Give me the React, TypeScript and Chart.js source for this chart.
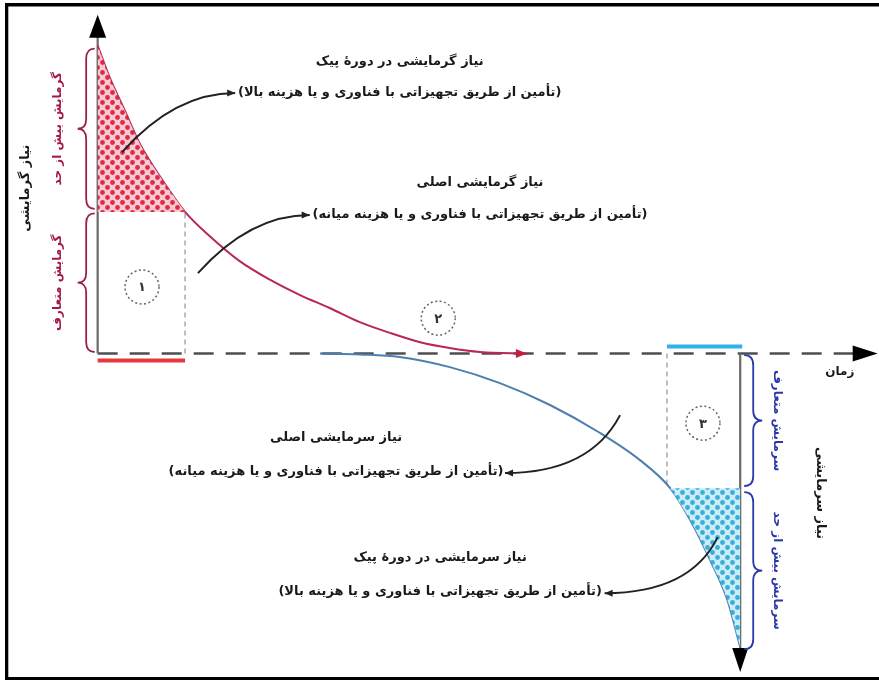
import React, { useEffect, useRef } from "react";
import { Chart, registerables } from "chart.js";

Chart.register(...registerables);

// time (0 = start of heating season, 100 = peak cooling) ; demand (+ heating, − cooling)
const heatTime = [0, 1.9, 4.2, 6.6, 9.7, 13.6, 17.5, 22.1, 26.8, 31.5, 36.1, 40.8, 45.5, 50.2, 54.8, 59.5, 66.8];
const heatDemand = [100, 89.5, 79, 68, 57.5, 46, 38, 30, 24, 19, 14.8, 10.2, 6.7, 3.7, 1.8, 0.5, 0];
const coolTime = [34.6, 40.8, 47, 54.8, 62.6, 70.4, 78.2, 84.4, 89.1, 92.2, 95.3, 98, 100];
const coolDemand = [0, -0.3, -1.1, -4.4, -9.6, -16.7, -25.8, -34.6, -43.7, -54, -67, -80, -95.3];

const heatThreshold = 46;
const heatPeakEnd = 13.6;
const coolThreshold = -43.7;
const coolPeakStart = 88.6;
const coolAxisTime = 100;
const heatAxisTop = 110;
const timeAxisEnd = 121.4;
const coolAxisBottom = -103.4;

const noteTitles = [
  "نیاز گرمایشی در دورهٔ پیک",
  "نیاز گرمایشی اصلی",
  "نیاز سرمایشی اصلی",
  "نیاز سرمایشی در دورهٔ پیک",
];
const noteDetails = [
  "(تأمین از طریق تجهیزاتی با فناوری و یا هزینه بالا)",
  "(تأمین از طریق تجهیزاتی با فناوری و یا هزینه میانه)",
  "(تأمین از طریق تجهیزاتی با فناوری و یا هزینه میانه)",
  "(تأمین از طریق تجهیزاتی با فناوری و یا هزینه بالا)",
];
const noteTime = [47.0, 59.5, 37.1, 53.3];
const noteTitleDemand = [94.7, 55.4, -27.4, -66.4];
const noteDetailDemand = [84.6, 45.0, -38.2, -77.4];

const arrowFrom = [[3.8, 65.4], [15.6, 26.1], [81.3, -20.0], [96.5, -59.6]];
const arrowVia = [[12.0, 84.6], [23.7, 45.0], [76.6, -38.8], [92.2, -77.8]];
const arrowTo = [[21.4, 84.6], [33.0, 45.0], [63.4, -38.8], [78.9, -77.8]];

const circleTime = [6.9, 53.0, 94.2];
const circleDemand = [21.6, 11.5, -22.6];
const circleLabels = ["۱", "۲", "۳"];

const heatBraces = [[99, 47], [45.5, 0.5]];
const heatBraceLabels = ["گرمایش بیش از حد", "گرمایش متعارف"];
const coolBraces = [[-0.5, -43], [-45, -96]];
const coolBraceLabels = ["سرمایش متعارف", "سرمایش بیش از حد"];

const heatAxisTitle = "نیاز گرمایشی";
const coolAxisTitle = "نیاز سرمایشی";
const timeAxisTitle = "زمان";
const heatAxisTitlePos = [-11.2, 53.7];
const coolAxisTitlePos = [112.4, -45.3];
const timeAxisTitlePos = [115.5, -6.0];

const FONT = "'DejaVu Sans', sans-serif";

function makePattern(ctx: CanvasRenderingContext2D, bg: string, dot: string) {
  const c = document.createElement("canvas");
  c.width = 10;
  c.height = 10;
  const g = c.getContext("2d")!;
  g.fillStyle = bg;
  g.fillRect(0, 0, 10, 10);
  g.fillStyle = dot;
  for (const [x, y] of [[2.5, 2.5], [7.5, 7.5]]) {
    g.beginPath();
    g.arc(x, y, 2.4, 0, Math.PI * 2);
    g.fill();
  }
  return ctx.createPattern(c, "repeat")!;
}

function head(ctx: CanvasRenderingContext2D, x: number, y: number, ang: number, len: number, hw: number, color: string) {
  ctx.save();
  ctx.translate(x, y);
  ctx.rotate(ang);
  ctx.fillStyle = color;
  ctx.beginPath();
  ctx.moveTo(0, 0);
  ctx.lineTo(-len, -hw);
  ctx.lineTo(-len, hw);
  ctx.closePath();
  ctx.fill();
  ctx.restore();
}

function brace(ctx: CanvasRenderingContext2D, x: number, y1: number, y2: number, d: number, color: string) {
  const mid = (y1 + y2) / 2;
  const h = d / 2;
  const q = 10;
  ctx.save();
  ctx.strokeStyle = color;
  ctx.lineWidth = 1.8;
  ctx.beginPath();
  ctx.moveTo(x, y1);
  ctx.quadraticCurveTo(x + h, y1, x + h, y1 + q);
  ctx.lineTo(x + h, mid - q);
  ctx.quadraticCurveTo(x + h, mid, x + d, mid);
  ctx.quadraticCurveTo(x + h, mid, x + h, mid + q);
  ctx.lineTo(x + h, y2 - q);
  ctx.quadraticCurveTo(x + h, y2, x, y2);
  ctx.stroke();
  ctx.restore();
}

function vText(ctx: CanvasRenderingContext2D, text: string, x: number, y: number, rot: number, font: string, color: string) {
  ctx.save();
  ctx.translate(x, y);
  ctx.rotate(rot);
  ctx.font = font;
  ctx.fillStyle = color;
  ctx.direction = "rtl";
  ctx.textAlign = "center";
  ctx.textBaseline = "middle";
  ctx.fillText(text, 0, 0);
  ctx.restore();
}

const diagramPlugin = {
  id: "diagram",
  beforeDatasetsDraw(chart: any) {
    const ctx: CanvasRenderingContext2D = chart.ctx;
    const X = (t: number) => chart.scales.x.getPixelForValue(t);
    const Y = (v: number) => chart.scales.y.getPixelForValue(v);
    const seg = (x1: number, y1: number, x2: number, y2: number) => {
      ctx.beginPath();
      ctx.moveTo(x1, y1);
      ctx.lineTo(x2, y2);
      ctx.stroke();
    };
    ctx.save();
    ctx.strokeStyle = "#a9a9a9";
    ctx.lineWidth = 1.5;
    ctx.setLineDash([5, 4]);
    seg(X(heatPeakEnd), Y(0), X(heatPeakEnd), Y(heatThreshold));
    seg(X(coolPeakStart), Y(0), X(coolPeakStart), Y(coolThreshold));
    ctx.strokeStyle = "#4f4f4f";
    ctx.lineWidth = 2.4;
    ctx.setLineDash([20, 12]);
    seg(X(0), Y(0), X(timeAxisEnd) - 22, Y(0));
    ctx.setLineDash([]);
    ctx.strokeStyle = "#6a6a6a";
    ctx.lineWidth = 2.2;
    seg(X(0), Y(0), X(0), Y(heatAxisTop) + 20);
    seg(X(coolAxisTime), Y(0), X(coolAxisTime), Y(coolAxisBottom) - 20);
    ctx.restore();
  },
  afterDatasetsDraw(chart: any) {
    const ctx: CanvasRenderingContext2D = chart.ctx;
    const X = (t: number) => chart.scales.x.getPixelForValue(t);
    const Y = (v: number) => chart.scales.y.getPixelForValue(v);
    ctx.save();
    head(ctx, X(0), Y(heatAxisTop), -Math.PI / 2, 23, 8.5, "#000");
    head(ctx, X(timeAxisEnd), Y(0), 0, 25, 8, "#000");
    head(ctx, X(coolAxisTime), Y(coolAxisBottom), Math.PI / 2, 24, 8, "#000");
    const lastT = heatTime[heatTime.length - 1];
    head(ctx, X(lastT), Y(heatDemand[heatDemand.length - 1]), 0, 11, 4.5, "#c21f3f");
    ctx.lineWidth = 4;
    ctx.strokeStyle = "#e8363c";
    ctx.beginPath();
    ctx.moveTo(X(0), Y(0) + 7);
    ctx.lineTo(X(heatPeakEnd), Y(0) + 7);
    ctx.stroke();
    ctx.strokeStyle = "#2fb2ec";
    ctx.beginPath();
    ctx.moveTo(X(coolPeakStart), Y(0) - 7);
    ctx.lineTo(X(coolAxisTime) + 2, Y(0) - 7);
    ctx.stroke();
    for (let i = 0; i < arrowFrom.length; i++) {
      const sx = X(arrowFrom[i][0]), sy = Y(arrowFrom[i][1]);
      const cx = X(arrowVia[i][0]), cy = Y(arrowVia[i][1]);
      const ex = X(arrowTo[i][0]), ey = Y(arrowTo[i][1]);
      ctx.strokeStyle = "#222";
      ctx.lineWidth = 2;
      ctx.beginPath();
      ctx.moveTo(sx, sy);
      ctx.quadraticCurveTo(cx, cy, ex, ey);
      ctx.stroke();
      head(ctx, ex, ey, Math.atan2(ey - cy, ex - cx), 8, 3.5, "#222");
    }
    ctx.direction = "rtl";
    ctx.textAlign = "center";
    ctx.textBaseline = "middle";
    ctx.fillStyle = "#1a1a1a";
    for (let i = 0; i < noteTitles.length; i++) {
      ctx.font = `bold 13px ${FONT}`;
      ctx.fillText(noteTitles[i], X(noteTime[i]), Y(noteTitleDemand[i]));
      ctx.fillText(noteDetails[i], X(noteTime[i]), Y(noteDetailDemand[i]), 336);
    }
    for (let i = 0; i < circleLabels.length; i++) {
      ctx.save();
      ctx.strokeStyle = "#666";
      ctx.lineWidth = 1.5;
      ctx.setLineDash([2, 2.5]);
      ctx.beginPath();
      ctx.arc(X(circleTime[i]), Y(circleDemand[i]), 17, 0, Math.PI * 2);
      ctx.stroke();
      ctx.restore();
      ctx.font = `bold 13px ${FONT}`;
      ctx.fillStyle = "#333";
      ctx.fillText(circleLabels[i], X(circleTime[i]), Y(circleDemand[i]) + 1);
    }
    heatBraces.forEach((b, i) => {
      brace(ctx, X(0) - 3, Y(b[0]), Y(b[1]), -17, "#9c1f4f");
      vText(ctx, heatBraceLabels[i], X(0) - 40, (Y(b[0]) + Y(b[1])) / 2, -Math.PI / 2, `bold 12px ${FONT}`, "#a3174a");
    });
    coolBraces.forEach((b, i) => {
      brace(ctx, X(coolAxisTime) + 4, Y(b[0]), Y(b[1]), 18, "#2b3aa5");
      vText(ctx, coolBraceLabels[i], X(coolAxisTime) + 37, (Y(b[0]) + Y(b[1])) / 2, Math.PI / 2, `bold 12px ${FONT}`, "#2b36a8");
    });
    vText(ctx, heatAxisTitle, X(heatAxisTitlePos[0]), Y(heatAxisTitlePos[1]), -Math.PI / 2, `bold 13px ${FONT}`, "#1a1a1a");
    vText(ctx, coolAxisTitle, X(coolAxisTitlePos[0]), Y(coolAxisTitlePos[1]), Math.PI / 2, `bold 13px ${FONT}`, "#1a1a1a");
    vText(ctx, timeAxisTitle, X(timeAxisTitlePos[0]), Y(timeAxisTitlePos[1]), 0, `bold 12px ${FONT}`, "#1a1a1a");
    ctx.restore();
  },
  afterDraw(chart: any) {
    const ctx: CanvasRenderingContext2D = chart.ctx;
    ctx.save();
    ctx.fillStyle = "#000";
    ctx.fillRect(5, 3, chart.width - 5, 3.5);
    ctx.fillRect(5, 3, 3.3, chart.height - 3);
    ctx.fillRect(5, chart.height - 3, chart.width - 5, 3);
    ctx.restore();
  },
};

export default function App() {
  const ref = useRef<HTMLCanvasElement | null>(null);
  useEffect(() => {
    document.body.style.margin = "0";
    const canvas = ref.current!;
    const ctx = canvas.getContext("2d")!;
    const redPattern = makePattern(ctx, "#f8cbd4", "#e02a44");
    const bluePattern = makePattern(ctx, "#cdecf8", "#35b0da");
    const heatPts = heatTime.map((t, i) => ({ x: t, y: heatDemand[i] }));
    const coolPts = coolTime.map((t, i) => ({ x: t, y: coolDemand[i] }));
    const heatPeakPts = heatPts.filter((p) => p.x <= heatPeakEnd);
    const coolPeakPts = coolPts.filter((p) => p.x >= coolPeakStart);
    const chart = new Chart(canvas, {
      type: "line",
      data: {
        datasets: [
          {
            data: heatPeakPts,
            fill: { value: heatThreshold },
            backgroundColor: redPattern,
            borderWidth: 0,
            borderColor: "rgba(0,0,0,0)",
            pointRadius: 0,
            cubicInterpolationMode: "monotone",
          },
          {
            data: coolPeakPts,
            fill: { value: coolThreshold },
            backgroundColor: bluePattern,
            borderWidth: 0,
            borderColor: "rgba(0,0,0,0)",
            pointRadius: 0,
            cubicInterpolationMode: "monotone",
          },
          {
            data: heatPts,
            fill: false,
            borderColor: "#b8275a",
            borderWidth: 2,
            pointRadius: 0,
            cubicInterpolationMode: "monotone",
          },
          {
            data: coolPts,
            fill: false,
            borderColor: "#4d7fb0",
            borderWidth: 2,
            pointRadius: 0,
            cubicInterpolationMode: "monotone",
          },
        ],
      } as any,
      options: {
        animation: false,
        responsive: false,
        maintainAspectRatio: false,
        devicePixelRatio: 1,
        layout: { padding: 0 },
        scales: {
          x: { type: "linear", min: -15.2, max: 121.6, display: false },
          y: { type: "linear", min: -106, max: 114.8, display: false },
        },
        plugins: { legend: { display: false }, tooltip: { enabled: false } },
      } as any,
      plugins: [diagramPlugin],
    });
    return () => chart.destroy();
  }, []);
  return <canvas ref={ref} width={879} height={680} style={{ display: "block" }} />;
}
